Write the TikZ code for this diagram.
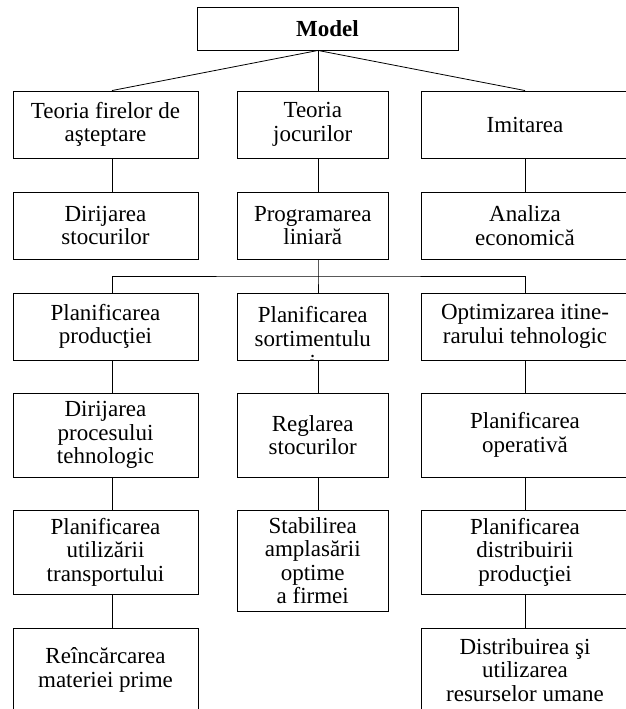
\documentclass[tikz,border=0pt]{standalone}
\usepackage{fontspec}
\setmainfont{Liberation Serif}

\tikzstyle{block} = [draw,rectangle,line width=0.9pt,inner sep=0pt,align=center,font=\fontsize{23}{23.5}\selectfont]
\tikzstyle{link} = [draw,line width=0.8pt,-]

\begin{document}
\begin{tikzpicture}[x=1pt,y=-1pt]
      \useasboundingbox (0,0) rectangle (626,709);
      \clip (0,0) rectangle (626,709);
      %columns
      \coordinate (colL) at (112,0);
      \coordinate (colM) at (318,0);
      \coordinate (colR) at (525,0);
      \coordinate (busM) at (318,276);
      %nodes
      \node[block, minimum width=261pt, minimum height=43pt] (model) at (327.5,28.5) {\textbf{Model}};
      \foreach \nodename/\x/\y/\w/\h/\txt in {
        l1/105.5/124.5/185/67/{Teoria firelor de\\aşteptare},
        l2/105.5/225.5/185/67/{Dirijarea\\stocurilor},
        l3/105.5/326.5/185/67/{Planificarea\\producţiei},
        l4/105.5/435/185/84/{Dirijarea\\procesului\\tehnologic},
        l5/105.5/552/185/84/{Planificarea\\utilizării\\transportului},
        l6/105.5/670/185/84/{Reîncărcarea\\materiei prime},
        m1/312.75/124.5/150.5/67/{Teoria\\jocurilor},
        m2/312.75/225.5/150.5/67/{Programarea\\liniară},
        m3/312.75/326.5/150.5/67/{Planificarea\\sortimentulu},
        m4/312.75/435/150.5/84/{Reglarea\\stocurilor},
        m5/312.75/560.5/150.5/101/{Stabilirea\\amplasării\\optime\\a firmei},
        r1/525/124.5/208/67/{Imitarea},
        r2/525/225.5/208/67/{Analiza\\economică},
        r3/525/326.5/208/67/{Optimizarea itine-\\rarului tehnologic},
        r4/525/435/208/84/{Planificarea\\operativă},
        r5/525/552/208/84/{Planificarea\\distribuirii\\producţiei},
        r6/525/670/208/84/{Distribuirea şi\\utilizarea\\resurselor umane}}
      {
        \node[block, minimum width=\w pt, minimum height=\h pt] (\nodename) at (\x,\y) {\txt};
      };
      % the cut last letter
      \begin{scope}
        \clip (m3.south west) rectangle (m3.north east);
        \node[anchor=north, inner sep=0pt, font=\fontsize{23}{23.5}\selectfont] (m3i) at ([yshift=5pt]m3.south) {i};
      \end{scope}
      %edges
      \path
      \foreach \endnode/\col in {l1/colL, m1/colM, r1/colR}
      {
        (model.south -| colM) edge[link] (\endnode.north -| \col)
      };
      \path
      \foreach \startnode/\endnode/\col in {
        l1/l2/colL, l3/l4/colL, l4/l5/colL, l5/l6/colL,
        m1/m2/colM, m3/m4/colM, m4/m5/colM,
        r1/r2/colR, r3/r4/colR, r4/r5/colR, r5/r6/colR}
      {
        (\startnode.south -| \col) edge[link] (\endnode.north -| \col)
      };
      \draw[link] (m2.south -| colM) -- (busM) -- (m3.north -| colM);
      \draw[link] (l3.north -| colL) |- (busM) -| (r3.north -| colR);
\end{tikzpicture}
\end{document}
